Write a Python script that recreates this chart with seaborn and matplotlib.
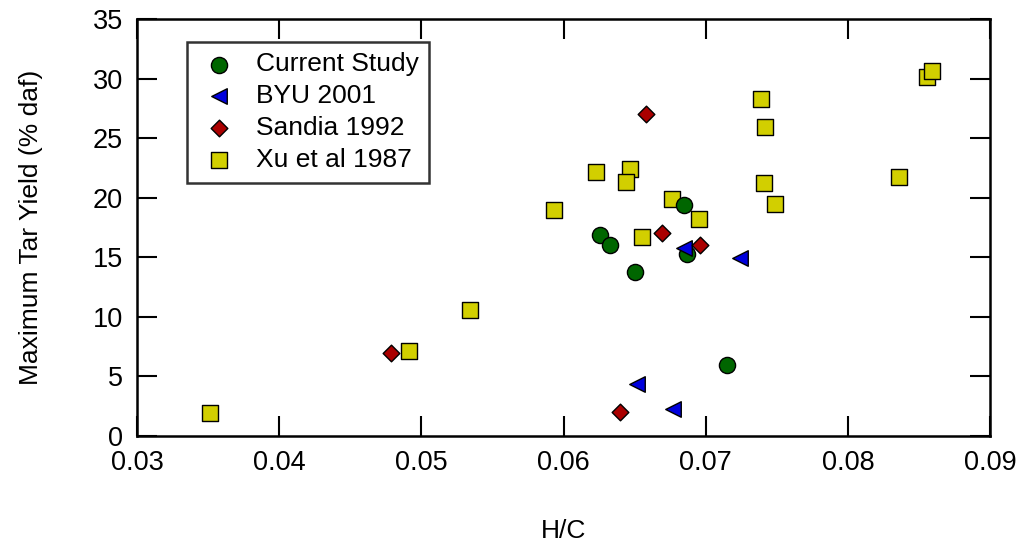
import matplotlib
matplotlib.use("Agg")
import matplotlib.pyplot as plt
import seaborn as sns
import pandas as pd

# Data
cur_hc = [0.0626, 0.0633, 0.0650, 0.0685, 0.0687, 0.0715]
cur_tar = [16.9, 16.0, 13.8, 19.4, 15.3, 6.0]

byu_hc = [0.0685, 0.0724, 0.0652, 0.0677]
byu_tar = [15.8, 14.9, 4.4, 2.3]

sandia_hc = [0.0479, 0.0640, 0.0658, 0.0669, 0.0696]
sandia_tar = [7.0, 2.0, 27.0, 17.0, 16.0]

xu_hc = [0.0351, 0.0491, 0.0534, 0.0593, 0.0623, 0.0647, 0.0644, 0.0655,
         0.0676, 0.0695, 0.0739, 0.0742, 0.0741, 0.0749, 0.0836, 0.0856, 0.0859]
xu_tar = [1.9, 7.1, 10.6, 19.0, 22.2, 22.4, 21.3, 16.7,
          19.9, 18.2, 28.3, 25.9, 21.2, 19.5, 21.7, 30.1, 30.6]

series_names = ["Current Study", "BYU 2001", "Sandia 1992", "Xu et al 1987"]
x_ticks = [0.03, 0.04, 0.05, 0.06, 0.07, 0.08, 0.09]
x_tick_labels = ["0.03", "0.04", "0.05", "0.06", "0.07", "0.08", "0.09"]
y_ticks = [0, 5, 10, 15, 20, 25, 30, 35]

df = pd.concat([
    pd.DataFrame({"hc": cur_hc, "tar": cur_tar, "src": series_names[0]}),
    pd.DataFrame({"hc": byu_hc, "tar": byu_tar, "src": series_names[1]}),
    pd.DataFrame({"hc": sandia_hc, "tar": sandia_tar, "src": series_names[2]}),
    pd.DataFrame({"hc": xu_hc, "tar": xu_tar, "src": series_names[3]}),
], ignore_index=True)

sns.set_theme(style="ticks")
plt.rcParams['font.family'] = ['Liberation Sans', 'DejaVu Sans']
plt.rcParams.update({
    "text.color": "black", "axes.labelcolor": "black",
    "xtick.color": "black", "ytick.color": "black",
    "axes.edgecolor": "black",
})

fig = plt.figure(figsize=(10.24, 5.46), dpi=100)
ax = fig.add_axes([137/1024, 110/546, 853/1024, 417/546])

styles = {
    "Current Study": dict(marker="o", color="#006600", s=135),
    "BYU 2001": dict(marker="<", color="#0000dd", s=125),
    "Sandia 1992": dict(marker="D", color="#aa0000", s=72),
    "Xu et al 1987": dict(marker="s", color="#d2cf00", s=118),
}
draw_order = ["Xu et al 1987", "Current Study", "BYU 2001", "Sandia 1992"]
for name in draw_order:
    st = styles[name]
    sub = df[df["src"] == name]
    sns.scatterplot(data=sub, x="hc", y="tar", ax=ax, marker=st["marker"],
                    color=st["color"], s=st["s"], edgecolor="black",
                    linewidth=1.0, label=name, zorder=3)

ax.set_xlim(0.03, 0.09)
ax.set_ylim(0, 35)
ax.set_xticks(x_ticks)
ax.set_xticklabels(x_tick_labels)
ax.set_yticks(y_ticks)
ax.tick_params(direction="in", length=14.5, width=1.5, top=True, right=True,
               labelsize=19.5, pad=10, colors="black")
for sp in ax.spines.values():
    sp.set_visible(True)
    sp.set_linewidth(1.8)
    sp.set_color("black")

ax.set_xlabel("H/C", fontsize=19, labelpad=31)
ax.set_ylabel("Maximum Tar Yield (% daf)", fontsize=19, labelpad=36)

h, l = ax.get_legend_handles_labels()
hm = dict(zip(l, h))
leg = ax.legend([hm[n] for n in series_names], series_names,
                loc="upper left", bbox_to_anchor=(0.0586, 0.945),
                borderaxespad=0, fontsize=19, frameon=True, fancybox=False,
                handletextpad=0.6, borderpad=0.4, labelspacing=0.3,
                handlelength=1.6)
leg.get_frame().set_edgecolor("black")
leg.get_frame().set_linewidth(1.8)

fig.savefig("out.png", dpi=100)
